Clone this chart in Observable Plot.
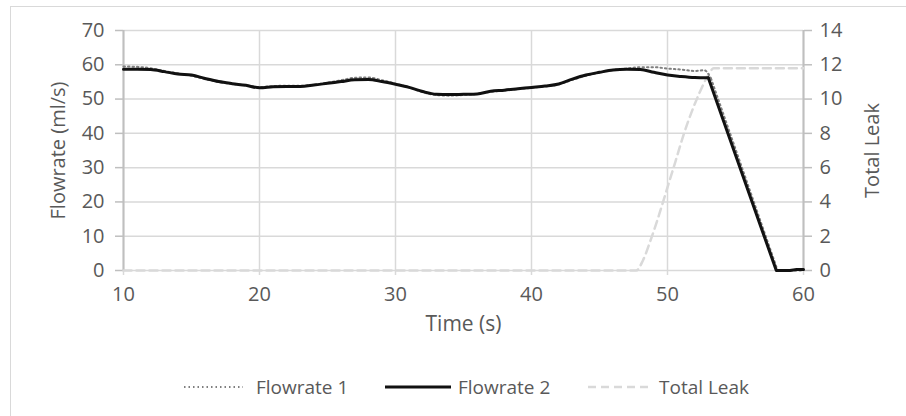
<!DOCTYPE html>
<html>
<head>
<meta charset="utf-8">
<script src="https://cdn.jsdelivr.net/npm/d3@7"></script>
<script src="https://cdn.jsdelivr.net/npm/@observablehq/plot@0.6"></script>
<style>
  html, body { margin: 0; padding: 0; background: #fff; }
  #wrap { position: relative; width: 906px; height: 416px; overflow: hidden; font-family: "Open Sans", "Liberation Sans", sans-serif; color: #595959; }
  #frame { position: absolute; left: 10px; top: 6px; width: 1000px; height: 600px; border: 1.5px solid #d9d9d9; box-sizing: border-box; }
  #chart { position: absolute; left: 0; top: 0; }
  #chart [aria-label$="tick label"], #chart [aria-label$="tick label"] text { font-size: 20px; }
  #legend { position: absolute; top: 374px; left: 0; width: 906px; height: 26px; }
  .item { position: absolute; top: 0; display: flex; align-items: center; font-size: 19px; height: 26px; }
  .item svg { margin-right: 7px; }
</style>
</head>
<body>
<div id="wrap">
  <div id="frame"></div>
  <div id="chart"></div>
  <div id="legend">
    <div class="item" style="left:183px"><svg width="66" height="6"><line x1="1" x2="60" y1="3" y2="3" stroke="#7f7f7f" stroke-width="2" stroke-dasharray="1.5,3"/></svg>Flowrate 1</div>
    <div class="item" style="left:385px"><svg width="66" height="6"><line x1="0" x2="66" y1="3" y2="3" stroke="#111" stroke-width="3"/></svg>Flowrate 2</div>
    <div class="item" style="left:588px"><svg width="64" height="6"><line x1="0" x2="64" y1="3" y2="3" stroke="#d9d9d9" stroke-width="2.5" stroke-dasharray="8,5"/></svg>Total Leak</div>
  </div>
</div>
<script>
// ---- Data ----
const time1 = [10,11,12,13,14,15,16,17,18,19,20,21,22,23,24,25,26,27,28,29,30,31,32,33,34,35,36,37,38,39,40,41,42,43,44,45,46,47,48,49,50,51,52,52.7,53.2,58.1,59,60];
const flowrate1 = [59.5,59.4,59.0,58.2,57.5,56.8,55.8,55.0,54.4,54.0,53.5,53.8,53.9,53.9,54.2,54.8,55.5,56.2,56.3,55.5,54.5,53.4,52.0,51.2,51.0,51.2,51.5,52.1,52.5,52.9,53.3,53.7,54.3,55.6,56.8,57.7,58.5,58.9,59.3,59.3,58.9,58.6,58.2,58.4,56.0,0,0,0];

const time2 = [10,11,12,13,14,15,16,17,18,19,20,21,22,23,24,25,26,27,28,29,30,31,32,33,34,35,36,37,38,39,40,41,42,43,44,45,46,47,48,49,50,51,52,53,58,59,59.5,60];
const flowrate2 = [58.7,58.7,58.6,58.0,57.3,57.0,56.0,55.1,54.5,54.0,53.3,53.6,53.7,53.7,54.1,54.6,55.1,55.6,55.7,55.1,54.3,53.4,52.2,51.4,51.3,51.4,51.5,52.3,52.6,53.0,53.4,53.8,54.4,55.8,57.0,57.8,58.5,58.7,58.6,57.8,57.0,56.6,56.3,56.2,0,0,0.3,0.3];

const leakTime = [10,20,30,40,47.7,48.2,48.75,49.4,50,50.6,51.2,51.8,52.43,53,53.4,55,60];
const totalLeak = [0,0,0,0,0,0.6,1.75,3.3,4.85,6.4,7.96,9.3,10.5,11.4,11.8,11.8,11.8];

// time at which the valve closes: smooth record before, straight drop after
const dropStart1 = 53.2;
const dropStart2 = 53;

const xTicks = [10,20,30,40,50,60];
const yTicks = [0,10,20,30,40,50,60,70];
const leakTicks = [0,2,4,6,8,10,12,14];

const xTitle = "Time (s)";
const yTitle = "Flowrate (ml/s)";
const y2Title = "Total Leak";

// ---- Build tables ----
const f1 = time1.map((t,i) => ({t, v: flowrate1[i]}));
const f2 = time2.map((t,i) => ({t, v: flowrate2[i]}));
const leakRatio = 70 / 14; // right axis 0–14 shares the left 0–70 scale
const lk = leakTime.map((t,i) => ({t, v: totalLeak[i]}));

const grid = "#d9d9d9";
const axisCol = "#bfbfbf";
const textCol = "#595959";
const font = "'Open Sans', 'Liberation Sans', sans-serif";

const chart = Plot.plot({
  width: 906,
  height: 345,
  marginTop: 30,
  marginBottom: 75,
  marginLeft: 123,
  marginRight: 103,
  style: { fontFamily: font, fontSize: "20px", color: textCol, background: "transparent", overflow: "visible" },
  x: { domain: [10, 60] },
  y: { domain: [0, 70] },
  marks: [
    Plot.gridY(yTicks, { stroke: grid, strokeOpacity: 1, strokeWidth: 1.5 }),
    Plot.gridX(xTicks, { stroke: grid, strokeOpacity: 1, strokeWidth: 1.5 }),
    Plot.axisX(xTicks, { tickSize: 5, tickPadding: 11, stroke: grid, strokeWidth: 1.5, label: null, fill: textCol, fontSize: 20 }),
    Plot.axisY(yTicks, { anchor: "left", tickSize: 8, tickPadding: 11, stroke: axisCol, strokeWidth: 1.5, label: null, fill: textCol, fontSize: 20 }),
    Plot.axisY(leakTicks.map(d => d * leakRatio), { anchor: "right", tickSize: 8, tickPadding: 8, stroke: axisCol, strokeWidth: 1.5, tickFormat: d => String(d / leakRatio), label: null, fill: textCol, fontSize: 20 }),
    Plot.ruleX([10, 60], { stroke: axisCol, strokeWidth: 2 }),
    Plot.text([xTitle], { frameAnchor: "bottom", textAnchor: "middle", dy: 60, fontSize: 21, fill: textCol }),
    Plot.text([yTitle], { frameAnchor: "left", textAnchor: "middle", dx: -65, rotate: -90, fontSize: 20, fill: textCol }),
    Plot.text([y2Title], { frameAnchor: "right", textAnchor: "middle", dx: 69, rotate: -90, fontSize: 20, fill: textCol }),
    Plot.line(lk, { x: "t", y: d => d.v * leakRatio, stroke: "#d9d9d9", strokeWidth: 2.5, strokeDasharray: "8,5", curve: "monotone-x" }),
    Plot.line(f1.filter(d => d.t <= dropStart1), { x: "t", y: "v", stroke: "#7f7f7f", strokeWidth: 2, strokeDasharray: "1.5,3", curve: "monotone-x" }),
    Plot.line(f1.filter(d => d.t >= dropStart1), { x: "t", y: "v", stroke: "#7f7f7f", strokeWidth: 2, strokeDasharray: "1.5,3", curve: "linear" }),
    Plot.line(f2.filter(d => d.t <= dropStart2), { x: "t", y: "v", stroke: "#111", strokeWidth: 3, curve: "monotone-x" }),
    Plot.line(f2.filter(d => d.t >= dropStart2), { x: "t", y: "v", stroke: "#111", strokeWidth: 3, curve: "linear" })
  ]
});
document.getElementById("chart").appendChild(chart);
</script>
</body>
</html>
